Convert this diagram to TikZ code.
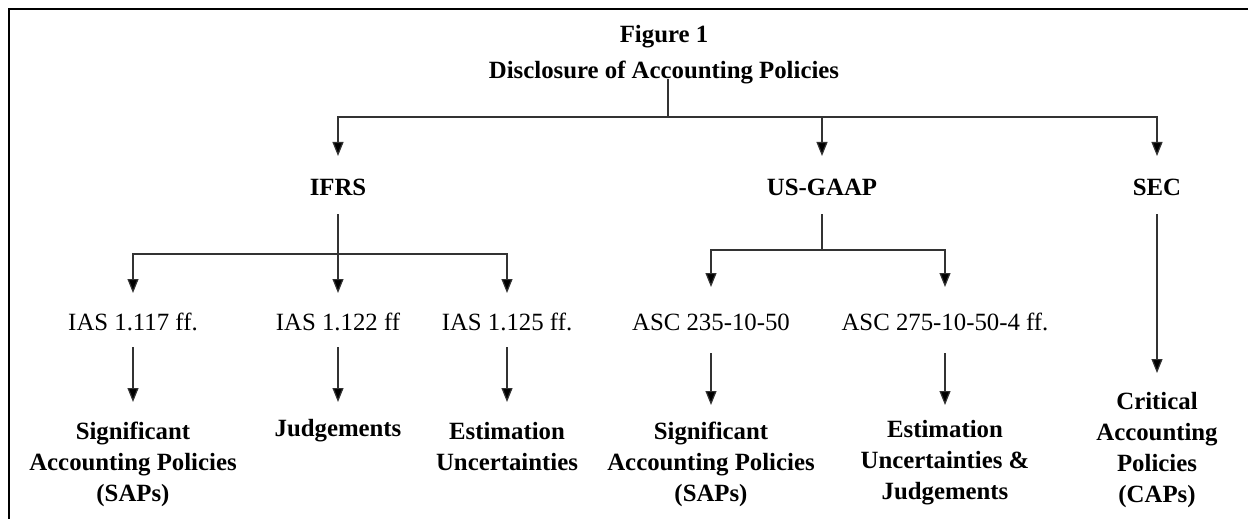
\documentclass[tikz,border=0pt]{standalone}
\usepackage{fontspec}
\setmainfont{Liberation Serif}
\usetikzlibrary{arrows.meta}

\begin{document}
\begin{tikzpicture}[x=0.5pt,y=-0.5pt,
	hd/.style={inner sep=0pt, outer sep=0pt, font=\fontsize{12.4}{15.5}\selectfont\bfseries, text height=8pt, text depth=0pt},
	rf/.style={inner sep=0pt, outer sep=0pt, font=\fontsize{12.4}{15.5}\selectfont, text height=8pt, text depth=0pt},
	lf/.style={inner sep=0pt, outer sep=0pt, font=\fontsize{12.4}{15.5}\selectfont\bfseries, align=center, anchor=north},
	ln/.style={line width=0.6pt, draw=black!80},
	ar/.style={ln, -{Triangle[length=7pt,width=5.5pt,fill=black]}}]

	\useasboundingbox (0,0) rectangle (1248,519);
	\draw[line width=1pt] (1248,9) -- (9,9) -- (9,519);

	\node (h0) [hd] at (664,35) {Figure 1};
	\node (h1) [hd] at (664,71) {Disclosure of Accounting Policies};
	\coordinate (j0) at (668,117);

	\node (s1) [hd] at (338,188) {IFRS};
	\node (s2) [hd] at (822,188) {US-GAAP};
	\node (s3) [hd] at (1157,188) {SEC};
	\coordinate (j1) at (338,254);
	\coordinate (j2) at (822,250);

	\node (p1) [rf] at (133,322) {IAS 1.117 ff.};
	\node (p2) [rf] at (338,322) {IAS 1.122 ff};
	\node (p3) [rf] at (507,322) {IAS 1.125 ff.};
	\node (p4) [rf] at (711,322) {ASC 235-10-50};
	\node (p5) [rf] at (945,322) {ASC 275-10-50-4 ff.};

	\node (e1) [lf] at (133,422) {Significant\\Accounting Policies\\(SAPs)};
	\node (e2) [lf] at (338,419) {Judgements};
	\node (e3) [lf] at (507,422) {Estimation\\Uncertainties};
	\node (e4) [lf] at (711,422) {Significant\\Accounting Policies\\(SAPs)};
	\node (e5) [lf] at (945,420) {Estimation\\Uncertainties \&\\Judgements};
	\node (e6) [lf] at (1157,392) {Critical\\Accounting\\Policies\\(CAPs)};

	\draw[ln] (h1.south -| j0) -- (j0);
	\draw[ar, shorten >=12pt] (j0) -| (s1);
	\draw[ar, shorten >=12pt] (j0) -| (s2);
	\draw[ar, shorten >=12pt] (j0) -| (s3);

	\draw[ln, shorten <=9pt] (s1) -- (j1);
	\draw[ar, shorten >=10.5pt] (j1) -| (p1);
	\draw[ar, shorten >=10.5pt] (j1) -- (p2);
	\draw[ar, shorten >=10.5pt] (j1) -| (p3);

	\draw[ln, shorten <=9pt] (s2) -- (j2);
	\draw[ar, shorten >=13.5pt] (j2) -| (p4);
	\draw[ar, shorten >=13.5pt] (j2) -| (p5);

	\draw[ar, shorten <=9pt, shorten >=9.5pt] (s3) -- (e6);

	\draw[ar, shorten <=8.5pt, shorten >=10pt] (p1) -- (e1);
	\draw[ar, shorten <=8.5pt, shorten >=8.5pt] (p2) -- (e2);
	\draw[ar, shorten <=8.5pt, shorten >=10pt] (p3) -- (e3);
	\draw[ar, shorten <=11.5pt, shorten >=8.5pt] (p4) -- (e4);
	\draw[ar, shorten <=11.5pt, shorten >=7.5pt] (p5) -- (e5);

\end{tikzpicture}
\end{document}
